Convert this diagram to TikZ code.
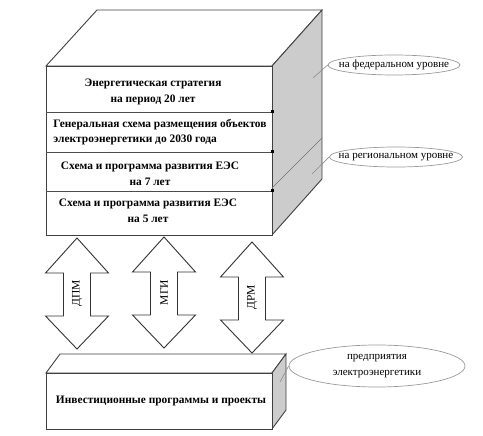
\documentclass[tikz,border=0pt]{standalone}
\usepackage{fontspec}
\setmainfont{Liberation Serif}
\usetikzlibrary{shapes.geometric}

\tikzset{
  edge/.style={draw=black!75, line width=0.9pt},
  sideface/.style={edge, fill=black!20},
  levelbox/.style={font=\bfseries\fontsize{11.4}{15.5}\selectfont, align=center, inner sep=0pt},
  oval/.style={ellipse, draw=black!40, line width=0.7pt, inner sep=0pt},
  ovaltext/.style={font=\fontsize{11}{16}\selectfont, align=center, inner sep=0pt},
  leader/.style={draw=black!45, line width=0.6pt},
  blockarrow/.style={draw=black!80, line width=0.9pt, fill=white}
}

\begin{document}
\begin{tikzpicture}[x=1pt,y=-1pt]
  \useasboundingbox (0,0) rectangle (483,436);

  % верхний куб
  \draw[edge, fill=white] (46,66) -- (97,10) -- (322,10) -- (272,66) -- cycle; % верх
  \draw[sideface] (272,66) -- (322,10) -- (322,179) -- (272,235) -- cycle; % бок
  \draw[edge, fill=white] (46,66) rectangle (272,235); % перед
  \draw[black!55, line width=0.6pt] (272,188) -- (322,138); % линия на боку

  % уровни
  \foreach \y in {112,152,191}{
    \draw[black!70, line width=0.6pt] (46,\y) -- (272,\y);
    \fill[black] (270.5,\y-1.5) rectangle (273.5,\y+1.5);
  }
  \node[levelbox] (lvlA) at (153,92) {Энергетическая стратегия\\на период 20 лет};
  \node[levelbox, align=left] (lvlB) at (160,132) {Генеральная схема размещения объектов\\электроэнергетики до 2030 года};
  \node[levelbox] (lvlC) at (150,174) {Схема и программа развития ЕЭС\\на 7 лет};
  \node[levelbox] (lvlD) at (148,211) {Схема и программа развития ЕЭС\\на 5 лет};

  % нижний блок
  \draw[edge, fill=white] (46,373) -- (60,354) -- (286,354) -- (272,373) -- cycle;
  \draw[sideface] (272,373) -- (286,354) -- (286,410) -- (272,429) -- cycle;
  \draw[edge, fill=white] (46,373) rectangle (272,429);
  \node[levelbox] (invest) at (161,401) {Инвестиционные программы и проекты};

  % двойные стрелки
  \foreach \cx/\ty/\by/\lab/\nm in {77/238/349/ДПМ/dpm, 164/237/348/МГИ/mgi, 252/242/353/ДРМ/drm}{
    \draw[blockarrow] (\cx,\ty) -- ++(31.5,35) -- ++(-18,0) -- (\cx+13.5,\by-33)
      -- ++(18,0) -- (\cx,\by) -- ++(-31.5,-33) -- ++(18,0) -- (\cx-13.5,\ty+35)
      -- ++(-18,0) -- cycle;
    \node[rotate=90, font=\fontsize{11.5}{12}\selectfont] (\nm) at (\cx,{(\ty+\by)/2}) {\lab};
  }

  % овалы с подписями
  \node[oval, minimum width=132, minimum height=20] (fed) at (394,65) {};
  \node[oval, minimum width=133, minimum height=20] (reg) at (396,157) {};
  \node[oval, minimum width=176, minimum height=42] (ent) at (377,366) {};
  \node[ovaltext] (fedText) at (fed) {на федеральном уровне};
  \node[ovaltext] (regText) at (reg) {на региональном уровне};
  \node[ovaltext] (entText) at (ent) {предприятия\\электроэнергетики};

  \coordinate (fedEnd) at (313,78);
  \coordinate (regEnd) at (312,174);
  \coordinate (entEnd) at (280,382);
  \draw[leader] (fed.west) -- (fedEnd);
  \draw[leader] (reg.west) -- (regEnd);
  \draw[leader] (ent.west) -- (entEnd);
\end{tikzpicture}
\end{document}
